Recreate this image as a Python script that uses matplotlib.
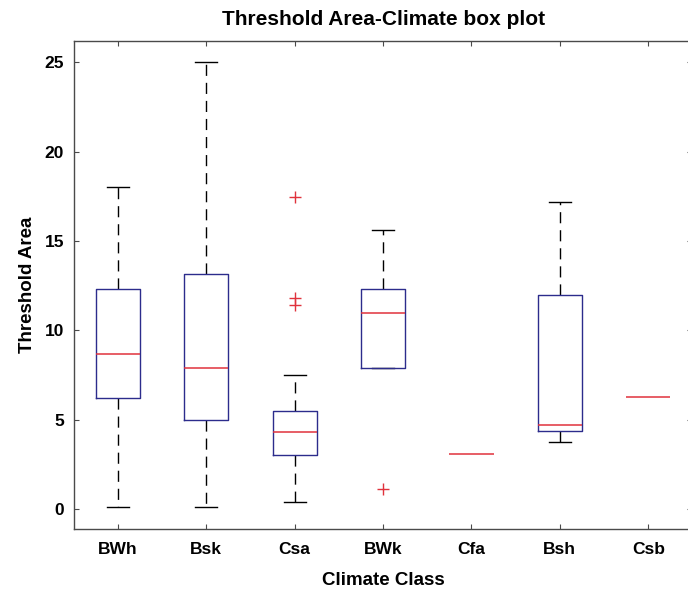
import matplotlib.pyplot as plt

# Box plot summary values
classes = ['BWh', 'Bsk', 'Csa', 'BWk', 'Cfa', 'Bsh', 'Csb']
medians = [8.7, 7.9, 4.3, 11.0, 3.1, 4.7, 6.3]
q1 = [6.2, 5.0, 3.05, 7.9, 3.1, 4.4, 6.3]
q3 = [12.3, 13.15, 5.5, 12.3, 3.1, 12.0, 6.3]
whisker_low = [0.1, 0.1, 0.4, 7.9, 3.1, 3.75, 6.3]
whisker_high = [18.0, 25.0, 7.5, 15.6, 3.1, 17.2, 6.3]
outliers = [[], [], [17.45, 11.8, 11.4], [1.15], [], [], []]

plt.rcParams['font.family'] = ['Liberation Sans', 'DejaVu Sans']
plt.rcParams['font.weight'] = 'bold'

fig = plt.figure(figsize=(6.88, 5.91), dpi=100)
ax = fig.add_axes([0.1071, 0.1044, 0.8994, 0.8267])

stats = []
for i, name in enumerate(classes):
    stats.append({'label': name, 'med': medians[i], 'q1': q1[i], 'q3': q3[i],
                  'whislo': whisker_low[i], 'whishi': whisker_high[i],
                  'fliers': outliers[i]})

box_col = '#2c2c8c'
red = '#e0323c'
bp = ax.bxp(stats, widths=0.5, capwidths=0.25,
            boxprops=dict(color=box_col, linewidth=1.0, zorder=2.05),
            medianprops=dict(color=red, linewidth=1.1, zorder=2.2),
            whiskerprops=dict(color='black', linewidth=1.0, linestyle=(0, (8, 5)), zorder=1.9),
            capprops=dict(color='black', linewidth=1.0, zorder=1.9),
            flierprops=dict(marker='+', markeredgecolor=red, markersize=8, markeredgewidth=1.0))

# single-value classes show only the red median line
for i in range(len(classes)):
    if q1[i] == q3[i]:
        bp['boxes'][i].set_visible(False)
        bp['caps'][2 * i].set_visible(False)
        bp['caps'][2 * i + 1].set_visible(False)

ax.set_xlim(0.5, 7.5)
ax.set_ylim(-1.12, 26.2)
ax.set_yticks([0, 5, 10, 15, 20, 25])

for s in ax.spines.values():
    s.set_color('#4a4a4a')
    s.set_linewidth(1.0)
ax.tick_params(direction='in', length=3.4, width=0.8, color='#4a4a4a',
               top=True, right=True, labelsize=12.5)
ax.tick_params(axis='x', pad=9)
ax.tick_params(axis='y', pad=7)

ax.set_title('Threshold Area-Climate box plot', fontsize=15, fontweight='bold', pad=11)
ax.set_xlabel('Climate Class', fontsize=13.5, fontweight='bold', labelpad=11)
ax.set_ylabel('Threshold Area', fontsize=13.5, fontweight='bold', labelpad=6)

plt.savefig('out.png', dpi=100)
